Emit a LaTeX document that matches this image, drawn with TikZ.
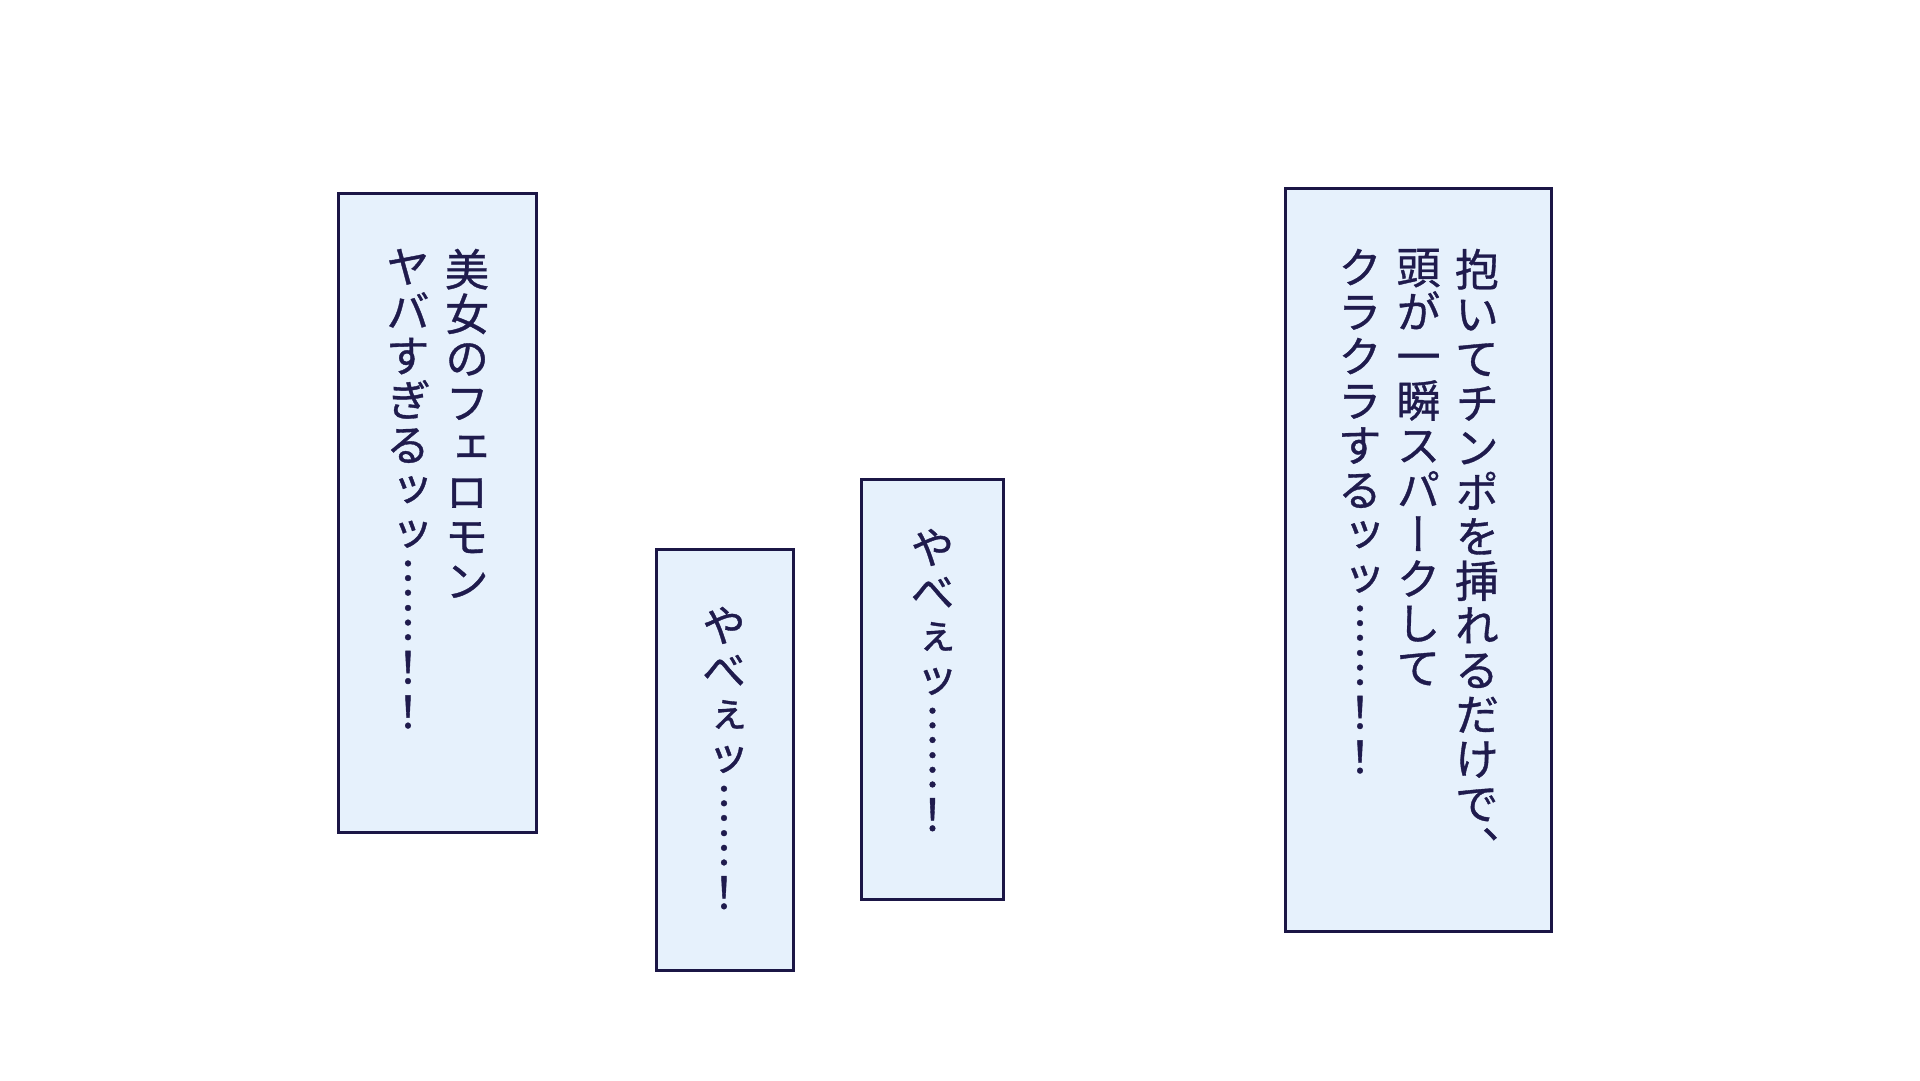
\documentclass[tikz,border=0pt]{standalone}
\usepackage{fontspec}
\newfontfamily\tatefont[RawFeature=+vert,FakeBold=0.8]{Noto Sans CJK JP}
\definecolor{panelfill}{RGB}{230,241,252}
\definecolor{panelline}{RGB}{27,22,70}
\definecolor{inkcol}{RGB}{31,27,77}

% one column of vertical text, one character per line
\newlength\tatepitch
\setlength\tatepitch{44.5pt}
\let\tateend\relax
\def\tatestack#1{\ifx#1\tateend\else\hbox to 1em{\hss#1\hss}\expandafter\tatestack\fi}
\newcommand\tatecol[1]{\vtop{\baselineskip=\tatepitch\lineskip=0pt
  \lineskiplimit=-\maxdimen\tatestack#1\tateend}}

\begin{document}
\begin{tikzpicture}[x=1pt,y=1pt,
  panel/.style={draw=panelline,fill=panelfill,line width=2.6pt,inner sep=0pt},
  tate/.style={anchor=north,inner sep=0pt,text=inkcol,
    font=\tatefont\fontsize{44}{44.5}\selectfont}]
  \useasboundingbox (0,0) rectangle (1920,1080);
  \fill[white] (0,0) rectangle (1920,1080);

  % panels
  \node[panel,minimum width=198.4pt,minimum height=639.4pt] (bijo) at (437.5,567) {};
  \node[panel,minimum width=137.4pt,minimum height=421.4pt] (yabeL) at (725,320) {};
  \node[panel,minimum width=142.4pt,minimum height=420.4pt] (yabeR) at (932.5,390.5) {};
  \node[panel,minimum width=266.4pt,minimum height=743.4pt] (daite) at (1418.5,520) {};

  % columns, right to left
  \node[tate] (bijoA) at ([xshift=29.5pt,yshift=-56.7pt]bijo.north) {\tatecol{美女のフェロモン}};
  \node[tate] (bijoB) at ([xshift=-59pt]bijoA.north) {\tatecol{ヤバすぎるッッ︙︙！！}};

  \node[tate] (yabeLtext) at ([xshift=-1pt,yshift=-58.7pt]yabeL.north) {\tatecol{やべぇッ︙︙！}};
  \node[tate] (yabeRtext) at ([yshift=-50.7pt]yabeR.north) {\tatecol{やべぇッ︙︙！}};

  \node[tate] (daiteA) at ([xshift=58.5pt,yshift=-61.7pt]daite.north) {\tatecol{抱いてチンポを挿れるだけで、}};
  \node[tate] (daiteB) at ([xshift=-58.5pt]daiteA.north) {\tatecol{頭が一瞬スパークして}};
  \node[tate] (daiteC) at ([xshift=-58.5pt]daiteB.north) {\tatecol{クラクラするッッ︙︙！！}};
\end{tikzpicture}
\end{document}
